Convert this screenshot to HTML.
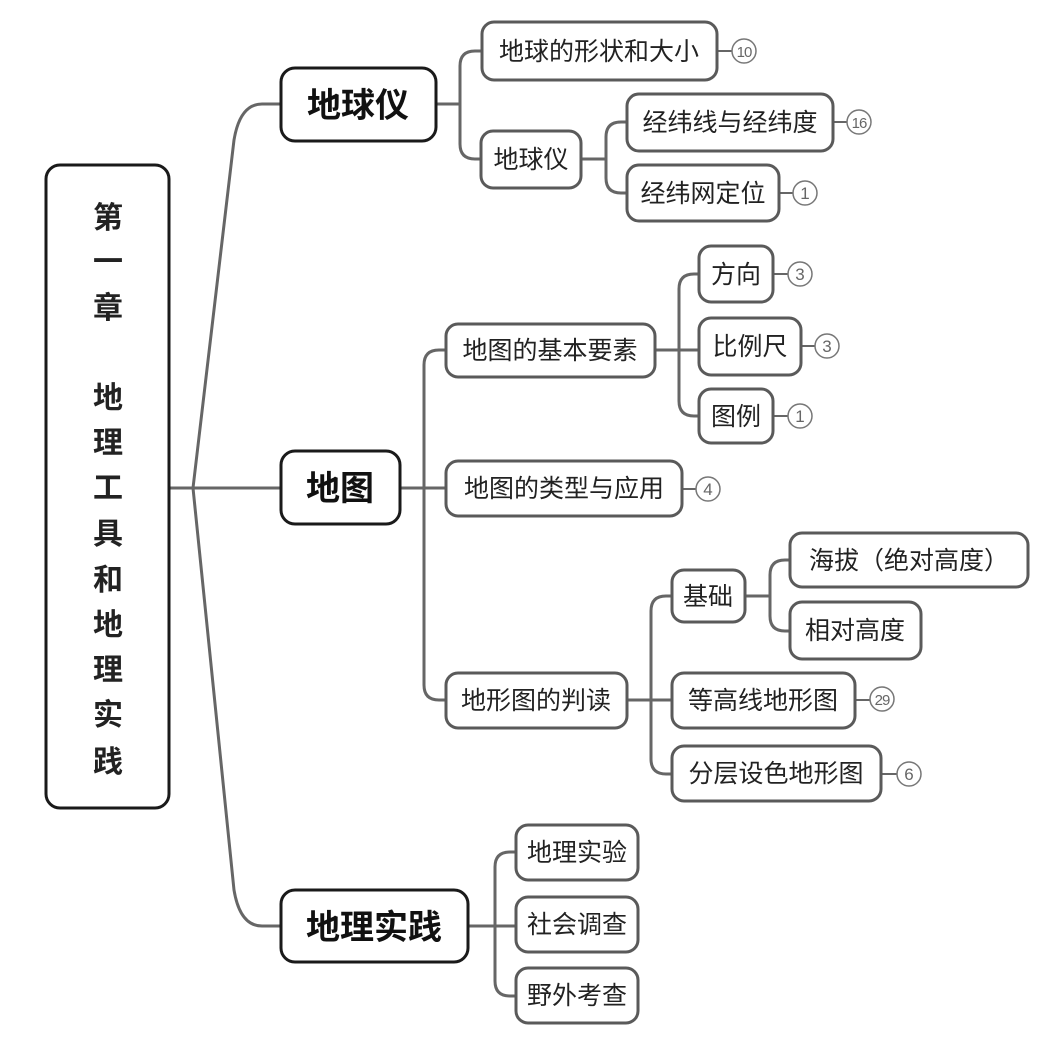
<!DOCTYPE html>
<html><head><meta charset="utf-8"><style>
html,body{margin:0;padding:0;background:#fff;}
svg{display:block;}
text{font-family:"Liberation Sans","Noto Sans CJK SC",sans-serif;fill:#222;}
.b{fill:#fff;stroke:#5a5a5a;stroke-width:3;}
.r{fill:#fff;stroke:#1a1a1a;stroke-width:3;}
.l{fill:none;stroke:#666;stroke-width:3;}
.c{fill:#fff;stroke:#777;stroke-width:1.5;}
.n{font-size:17px;fill:#666;}
.t{font-size:25px;}
.bt{font-size:34px;font-weight:bold;fill:#111;}
</style></head><body>
<svg width="1048" height="1062" viewBox="0 0 1048 1062">
<path class="l" d="M169 488 H281"/>
<path class="l" d="M193 488 L234 140 Q240 104 262 104 H281"/>
<path class="l" d="M193 488 L234 890 Q240 926 262 926 H281"/>
<path class="l" d="M436 104 H460 M460 104 V66 Q460 51 475 51 H482 M460 104 V144 Q460 159 475 159 H481"/>
<path class="l" d="M581 159 H606 M606 159 V137 Q606 122 621 122 H627 M606 159 V178 Q606 193 621 193 H627"/>
<path class="l" d="M400 488 H446 M424 488 V365 Q424 350 439 350 H446 M424 488 V685 Q424 700 439 700 H446"/>
<path class="l" d="M655 350 H699 M679 350 V289 Q679 274 694 274 H699 M679 350 V401 Q679 416 694 416 H699"/>
<path class="l" d="M627 700 H672 M651 700 V611 Q651 596 666 596 H672 M651 700 V759 Q651 774 666 774 H672"/>
<path class="l" d="M745 596 H770 M770 596 V575 Q770 560 785 560 H790 M770 596 V616 Q770 631 785 631 H790"/>
<path class="l" d="M468 926 H516 M495 926 V867 Q495 852 510 852 H516 M495 926 V981 Q495 996 510 996 H516"/>
<path class="l" d="M717 51 H732 M833 122 H847 M779 193 H793 M773 274 H788 M801 346 H815 M773 416 H788 M682 489 H696 M855 700 H870 M881 774 H897" style="stroke-width:2"/>

<rect class="r" x="46" y="165" width="123" height="643" rx="14"/>
<g class="bt" text-anchor="middle" style="font-size:30px">
<text x="108" y="228">第</text><text x="108" y="272">一</text><text x="108" y="318">章</text>
<text x="108" y="408">地</text><text x="108" y="453">理</text><text x="108" y="498">工</text><text x="108" y="544">具</text>
<text x="108" y="590">和</text><text x="108" y="635">地</text><text x="108" y="680">理</text><text x="108" y="725">实</text><text x="108" y="772">践</text>
</g>

<rect class="r" x="281" y="68" width="155" height="73" rx="14"/>
<text class="bt" x="358" y="117" text-anchor="middle">地球仪</text>
<rect class="r" x="281" y="451" width="119" height="73" rx="14"/>
<text class="bt" x="340" y="500" text-anchor="middle">地图</text>
<rect class="r" x="281" y="890" width="187" height="72" rx="14"/>
<text class="bt" x="374" y="939" text-anchor="middle">地理实践</text>

<g text-anchor="middle">
<rect class="b" x="482" y="22" width="235" height="58" rx="12"/><text class="t" x="599" y="60">地球的形状和大小</text>
<rect class="b" x="481" y="131" width="100" height="57" rx="12"/><text class="t" x="531" y="168">地球仪</text>
<rect class="b" x="627" y="94" width="206" height="57" rx="12"/><text class="t" x="730" y="131">经纬线与经纬度</text>
<rect class="b" x="627" y="165" width="152" height="56" rx="12"/><text class="t" x="703" y="202">经纬网定位</text>
<rect class="b" x="446" y="324" width="209" height="53" rx="12"/><text class="t" x="550" y="359">地图的基本要素</text>
<rect class="b" x="699" y="246" width="74" height="56" rx="12"/><text class="t" x="736" y="283">方向</text>
<rect class="b" x="699" y="318" width="102" height="57" rx="12"/><text class="t" x="750" y="355">比例尺</text>
<rect class="b" x="699" y="389" width="74" height="54" rx="12"/><text class="t" x="736" y="425">图例</text>
<rect class="b" x="446" y="461" width="236" height="55" rx="12"/><text class="t" x="564" y="497">地图的类型与应用</text>
<rect class="b" x="446" y="673" width="181" height="55" rx="12"/><text class="t" x="536" y="709">地形图的判读</text>
<rect class="b" x="672" y="570" width="73" height="52" rx="12"/><text class="t" x="708" y="605">基础</text>
<rect class="b" x="790" y="533" width="238" height="54" rx="12"/><text class="t" x="909" y="569">海拔（绝对高度）</text>
<rect class="b" x="790" y="602" width="131" height="57" rx="12"/><text class="t" x="855" y="639">相对高度</text>
<rect class="b" x="672" y="673" width="183" height="55" rx="12"/><text class="t" x="763" y="709">等高线地形图</text>
<rect class="b" x="672" y="746" width="209" height="55" rx="12"/><text class="t" x="776" y="782">分层设色地形图</text>
<rect class="b" x="516" y="825" width="122" height="55" rx="12"/><text class="t" x="577" y="861">地理实验</text>
<rect class="b" x="516" y="897" width="122" height="55" rx="12"/><text class="t" x="577" y="933">社会调查</text>
<rect class="b" x="516" y="968" width="122" height="55" rx="12"/><text class="t" x="577" y="1004">野外考查</text>
</g>

<g text-anchor="middle">
<circle class="c" cx="744" cy="51" r="12"/><text class="n" x="744" y="57" style="font-size:15px;letter-spacing:-1px">10</text>
<circle class="c" cx="859" cy="122" r="12"/><text class="n" x="859" y="128" style="font-size:15px;letter-spacing:-1px">16</text>
<circle class="c" cx="805" cy="193" r="12"/><text class="n" x="805" y="199">1</text>
<circle class="c" cx="800" cy="274" r="12"/><text class="n" x="800" y="280">3</text>
<circle class="c" cx="827" cy="346" r="12"/><text class="n" x="827" y="352">3</text>
<circle class="c" cx="800" cy="416" r="12"/><text class="n" x="800" y="422">1</text>
<circle class="c" cx="708" cy="489" r="12"/><text class="n" x="708" y="495">4</text>
<circle class="c" cx="882" cy="699" r="12"/><text class="n" x="882" y="705" style="font-size:15px;letter-spacing:-1px">29</text>
<circle class="c" cx="909" cy="774" r="12"/><text class="n" x="909" y="780">6</text>
</g>
</svg>
</body></html>
